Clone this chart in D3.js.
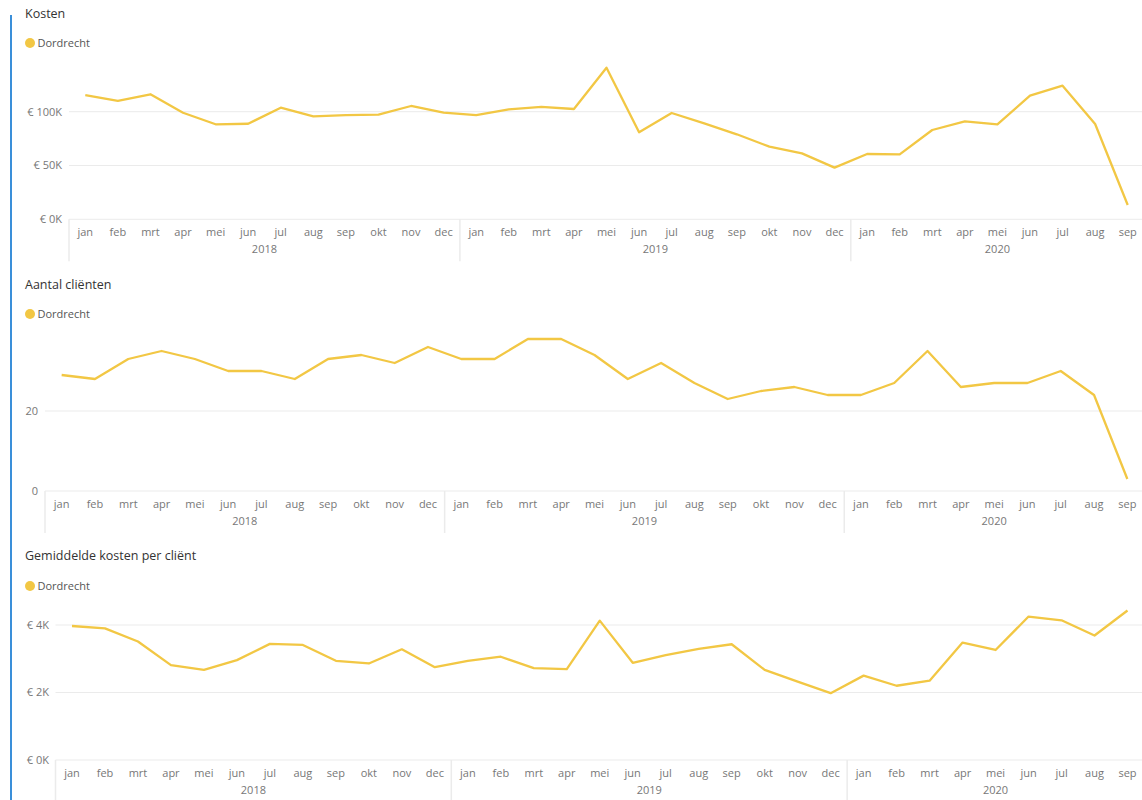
<!DOCTYPE html>
<html>
<head>
<meta charset="utf-8">
<script src="https://cdn.jsdelivr.net/npm/d3@7"></script>
<style>
  html, body { margin: 0; padding: 0; background: #fff; }
  svg { display: block; font-family: "Segoe UI", "Open Sans", sans-serif; }
</style>
</head>
<body>
<svg id="chart" width="1142" height="800"></svg>
<script>
// ---------- DATA ----------
const months = ["jan","feb","mrt","apr","mei","jun","jul","aug","sep","okt","nov","dec"];
const years = ["2018","2019","2020"];
const monthsPerYear = [12, 12, 9];
const seriesName = "Dordrecht";

const titles = ["Kosten", "Aantal cliënten", "Gemiddelde kosten per cliënt"];

const kosten = [
  115500,110000,116200, 99000, 88300, 88800,103700, 95700, 96900, 97200,105300, 99100,
   96900,102200,104400,102500,140900, 80900, 98800, 89200, 79000, 67500, 61300, 48000,
   60700, 60400, 83000, 91100, 88300,114900,124200, 88600, 13300
];
const clienten = [
  29,28,33,35,33,30,30,28,33,34,32,36,
  33,33,38,38,34,28,32,27,23,25,26,24,
  24,27,35,26,27,27,30,24,3
];
const gemiddelde = [
  3970,3900,3510,2810,2670,2960,3440,3410,2940,2860,3280,2750,
  2940,3060,2720,2690,4130,2880,3110,3290,3430,2670,2320,1980,
  2500,2200,2350,3480,3260,4250,4140,3690,4430
];

const kostenTicks = [0, 50000, 100000];
const clientenTicks = [0, 20];
const gemiddeldeTicks = [0, 2000, 4000];

// ---------- BUILD PERIODS ----------
const periods = [];
years.forEach((y, yi) => {
  for (let m = 0; m < monthsPerYear[yi]; m++) periods.push({ key: y + "-" + m, year: y, month: months[m] });
});

// ---------- STYLE / LAYOUT ----------
const lineColor = "#F2C744";
const gridColor = "#EBEBEB";
const tickColor = "#777";
const titleColor = "#333";

const svg = d3.select("#chart");

// left selection bar
svg.append("rect").attr("x", 10).attr("y", 15).attr("width", 2).attr("height", 785).attr("fill", "#3A8FD9");

const charts = [
  { title: titles[0], values: kosten, ticks: kostenTicks, fmt: v => "€ " + (v / 1000) + "K",
    titleY: 14, legendY: 43, x0: 69, x1: 1144, y0: 219.3, yRef: 111.7, refVal: 100000, labelRight: 62 },
  { title: titles[1], values: clienten, ticks: clientenTicks, fmt: v => String(v),
    titleY: 285, legendY: 314, x0: 45, x1: 1144, y0: 491, yRef: 411, refVal: 20, labelRight: 38 },
  { title: titles[2], values: gemiddelde, ticks: gemiddeldeTicks, fmt: v => "€ " + (v / 1000) + "K",
    titleY: 556, legendY: 586, x0: 55.5, x1: 1144, y0: 760, yRef: 625, refVal: 4000, labelRight: 49 }
];

charts.forEach(c => {
  const g = svg.append("g");

  // title
  g.append("text").attr("x", 25).attr("y", c.titleY).attr("dy", "0.35em")
    .attr("font-size", 12.5).attr("fill", titleColor).text(c.title);

  // legend
  g.append("circle").attr("cx", 30).attr("cy", c.legendY).attr("r", 5).attr("fill", lineColor);
  g.append("text").attr("x", 37.5).attr("y", c.legendY).attr("dy", "0.35em")
    .attr("font-size", 11).attr("fill", "#555").text(seriesName);

  // scales
  const x = d3.scaleBand().domain(periods.map(p => p.key)).range([c.x0, c.x1]).padding(0);
  const y = d3.scaleLinear().domain([0, c.refVal]).range([c.y0, c.yRef]);

  // gridlines
  g.append("g").selectAll("line").data(c.ticks).join("line")
    .attr("x1", c.x0).attr("x2", c.x1)
    .attr("y1", d => y(d)).attr("y2", d => y(d))
    .attr("stroke", gridColor).attr("stroke-width", 1);

  // y tick labels
  g.append("g").selectAll("text").data(c.ticks).join("text")
    .attr("x", c.labelRight).attr("y", d => y(d)).attr("dy", "0.35em")
    .attr("text-anchor", "end").attr("font-size", 11).attr("fill", tickColor)
    .text(c.fmt);

  // x axis month labels
  const xAxis = d3.axisBottom(x).tickSize(0).tickPadding(0).tickFormat(k => periods.find(p => p.key === k).month);
  const ax = g.append("g").attr("transform", `translate(0,${c.y0 + 13})`).call(xAxis);
  ax.select(".domain").remove();
  ax.selectAll("text").attr("font-size", 11).attr("fill", tickColor).attr("dy", "0.35em")
    .attr("font-family", '"Segoe UI", "Open Sans", sans-serif');

  // year separators & labels
  let start = 0;
  years.forEach((yr, yi) => {
    const first = periods[start].key;
    const last = periods[start + monthsPerYear[yi] - 1].key;
    const left = x(first);
    const right = x(last) + x.bandwidth();
    g.append("line").attr("x1", left).attr("x2", left).attr("y1", c.y0).attr("y2", c.y0 + 42)
      .attr("stroke", gridColor).attr("stroke-width", 1.5);
    g.append("text").attr("x", (left + right) / 2).attr("y", c.y0 + 30).attr("dy", "0.35em")
      .attr("text-anchor", "middle").attr("font-size", 11).attr("fill", tickColor).text(yr);
    start += monthsPerYear[yi];
  });

  // line
  const line = d3.line().x((d, i) => x(periods[i].key) + x.bandwidth() / 2).y(d => y(d));
  g.append("path").datum(c.values).attr("d", line)
    .attr("fill", "none").attr("stroke", lineColor).attr("stroke-width", 2.3)
    .attr("stroke-linejoin", "round");
});
</script>
</body>
</html>
